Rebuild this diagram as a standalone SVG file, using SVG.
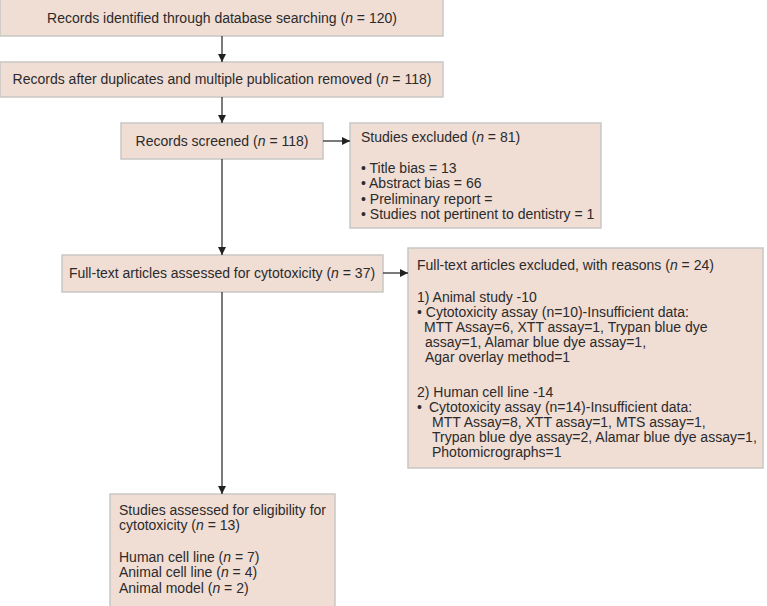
<svg xmlns="http://www.w3.org/2000/svg" width="767" height="606" viewBox="0 0 767 606">
<defs>
<marker id="ah" viewBox="0 0 10 10" refX="10" refY="5" markerWidth="8" markerHeight="8" markerUnits="userSpaceOnUse" orient="auto">
<path d="M0,0 L10,5 L0,10 z" fill="#222"/>
</marker>
<style>
.box{fill:#f0ddd4;stroke:#c9c7c6;stroke-width:1.5}
text{font-family:"Liberation Sans",Arial,sans-serif;font-size:14px;fill:#2b2b2b}
.c{text-anchor:middle}
.conn line{stroke:#222;stroke-width:1.2;marker-end:url(#ah)}
</style>
</defs>
<rect width="767" height="606" fill="#fff"/>
<g id="n1"><rect class="box" x="0" y="-1" width="443" height="37"/>
<text class="c" x="222" y="23">Records identified through database searching (<tspan font-style="italic">n</tspan> = 120)</text></g>
<g id="n2"><rect class="box" x="0" y="62" width="443" height="35"/>
<text class="c" x="222" y="84">Records after duplicates and multiple publication removed (<tspan font-style="italic">n</tspan> = 118)</text></g>
<g id="n3"><rect class="box" x="121" y="123" width="202" height="36"/>
<text class="c" x="222" y="146">Records screened (<tspan font-style="italic">n</tspan> = 118)</text></g>
<g id="n4"><rect class="box" x="350" y="123" width="251" height="105"/>
<text x="361" y="142">Studies excluded (<tspan font-style="italic">n</tspan> = 81)</text>
<text x="361" y="173">• Title bias = 13</text>
<text x="361" y="188">• Abstract bias = 66</text>
<text x="361" y="204">• Preliminary report =</text>
<text x="361" y="219">• Studies not pertinent to dentistry = 1</text></g>
<g id="n5"><rect class="box" x="62" y="255" width="321" height="37"/>
<text class="c" x="222" y="278">Full-text articles assessed for cytotoxicity (<tspan font-style="italic">n</tspan> = 37)</text></g>
<g id="n6"><rect class="box" x="408" y="248" width="355" height="220"/>
<text x="417" y="270">Full-text articles excluded, with reasons (<tspan font-style="italic">n</tspan> = 24)</text>
<text x="417" y="302">1) Animal study -10</text>
<text x="417" y="317">• Cytotoxicity assay (n=10)-Insufficient data:</text>
<text x="424" y="332">MTT Assay=6, XTT assay=1, Trypan blue dye</text>
<text x="425" y="347">assay=1, Alamar blue dye assay=1,</text>
<text x="425" y="362">Agar overlay method=1</text>
<text x="417" y="397">2) Human cell line -14</text>
<text x="417" y="412">•<tspan x="429">Cytotoxicity assay (n=14)-Insufficient data:</tspan></text>
<text x="432" y="427">MTT Assay=8, XTT assay=1, MTS assay=1,</text>
<text x="432" y="442">Trypan blue dye assay=2, Alamar blue dye assay=1,</text>
<text x="432" y="457">Photomicrographs=1</text></g>
<g id="n7"><rect class="box" x="110" y="494" width="225" height="113"/>
<text x="119" y="515">Studies assessed for eligibility for</text>
<text x="119" y="530">cytotoxicity (<tspan font-style="italic">n</tspan> = 13)</text>
<text x="119" y="562">Human cell line (<tspan font-style="italic">n</tspan> = 7)</text>
<text x="119" y="577">Animal cell line (<tspan font-style="italic">n</tspan> = 4)</text>
<text x="119" y="593">Animal model (<tspan font-style="italic">n</tspan> = 2)</text></g>
<g id="connectors" class="conn">
<line x1="222" y1="36" x2="222" y2="62"/>
<line x1="222" y1="97" x2="222" y2="123"/>
<line x1="323" y1="141" x2="350" y2="141"/>
<line x1="222" y1="159" x2="222" y2="255"/>
<line x1="383" y1="273" x2="408" y2="273"/>
<line x1="222" y1="292" x2="222" y2="494"/>
</g>
</svg>
